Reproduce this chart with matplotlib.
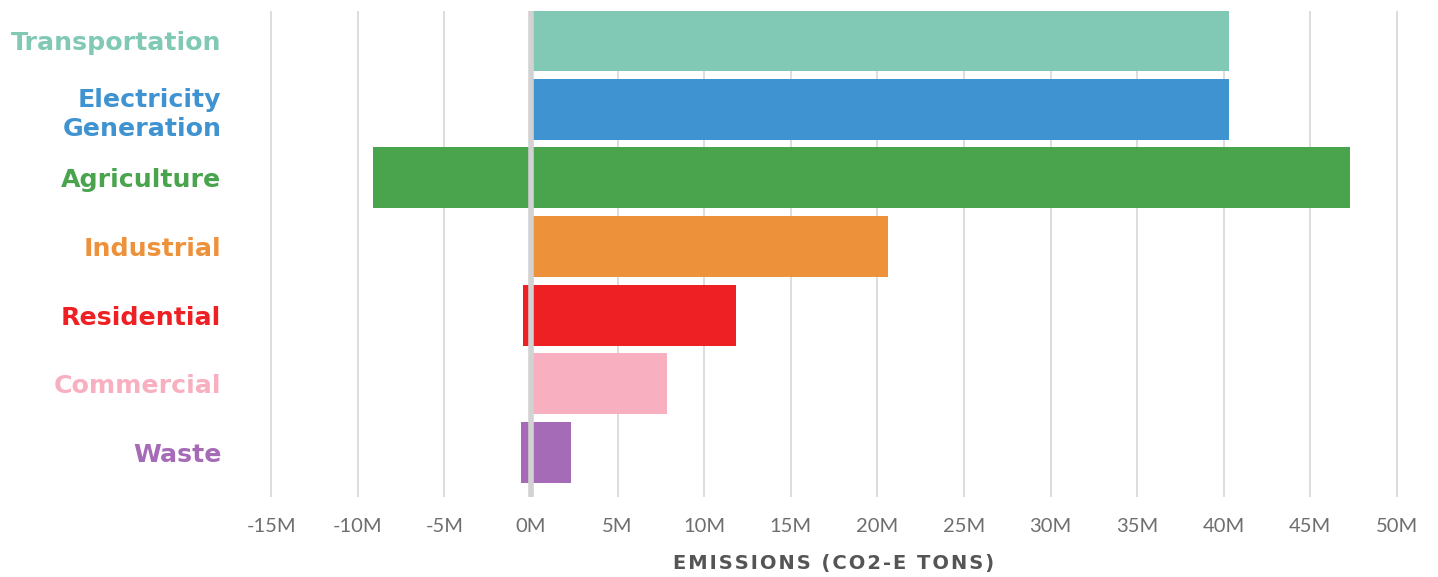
import matplotlib
matplotlib.use("Agg")
import matplotlib.pyplot as plt
from matplotlib.ticker import FuncFormatter

# Sector emissions (millions of CO2-e tons)
sectors = ["Transportation", "Electricity\nGeneration", "Agriculture", "Industrial",
           "Residential", "Commercial", "Waste"]
positive = [40.3, 40.3, 47.3, 20.6, 11.85, 7.85, 2.3]
negative = [0.0, 0.0, -9.1, 0.0, -0.45, 0.0, -0.6]
colors = ["#81c9b5", "#3f93d0", "#4aa44e", "#ee913b", "#ee2024", "#f8afc0", "#a56bb6"]
xticks = [-15, -10, -5, 0, 5, 10, 15, 20, 25, 30, 35, 40, 45, 50]

fig = plt.figure(figsize=(14.38, 5.77), dpi=100)
ax = fig.add_axes([0.1645, 0.1386, 0.831, 0.8423])

ypos = list(range(len(sectors)))
ax.barh(ypos, positive, height=0.89, color=colors, zorder=2)
ax.barh(ypos, negative, height=0.89, color=colors, zorder=2)

# zero line drawn on top of the bars
ax.axvline(0, color="#d2d2d2", linewidth=4.0, zorder=3)

ax.set_xlim(-17, 52)
ax.set_ylim(6.648, -0.43)
ax.set_xticks(xticks)
ax.xaxis.set_major_formatter(FuncFormatter(lambda v, p: f"{int(v)}M"))
ax.grid(axis="x", color="#dadada", linewidth=1.3, zorder=0)
ax.set_axisbelow(True)
for s in ax.spines.values():
    s.set_visible(False)

ax.tick_params(axis="x", length=0, pad=15, labelsize=14.5, labelcolor="#6e6e6e")
for lbl in ax.get_xticklabels():
    lbl.set_fontfamily("Lato")

ax.set_yticks(ypos)
ax.set_yticklabels(sectors, fontsize=18.2, fontweight="bold", fontfamily="DejaVu Sans",
                   linespacing=1.3)
ax.tick_params(axis="y", length=0, pad=11)
for lbl, c in zip(ax.get_yticklabels(), colors):
    lbl.set_color(c)
    lbl.set_horizontalalignment("right")

hair = "\u200a"
ax.set_xlabel(hair.join("EMISSIONS (CO2-E TONS)"), fontsize=14, fontweight="bold",
              fontfamily="DejaVu Sans", color="#555555", labelpad=14)

fig.savefig("out.png", dpi=100)
